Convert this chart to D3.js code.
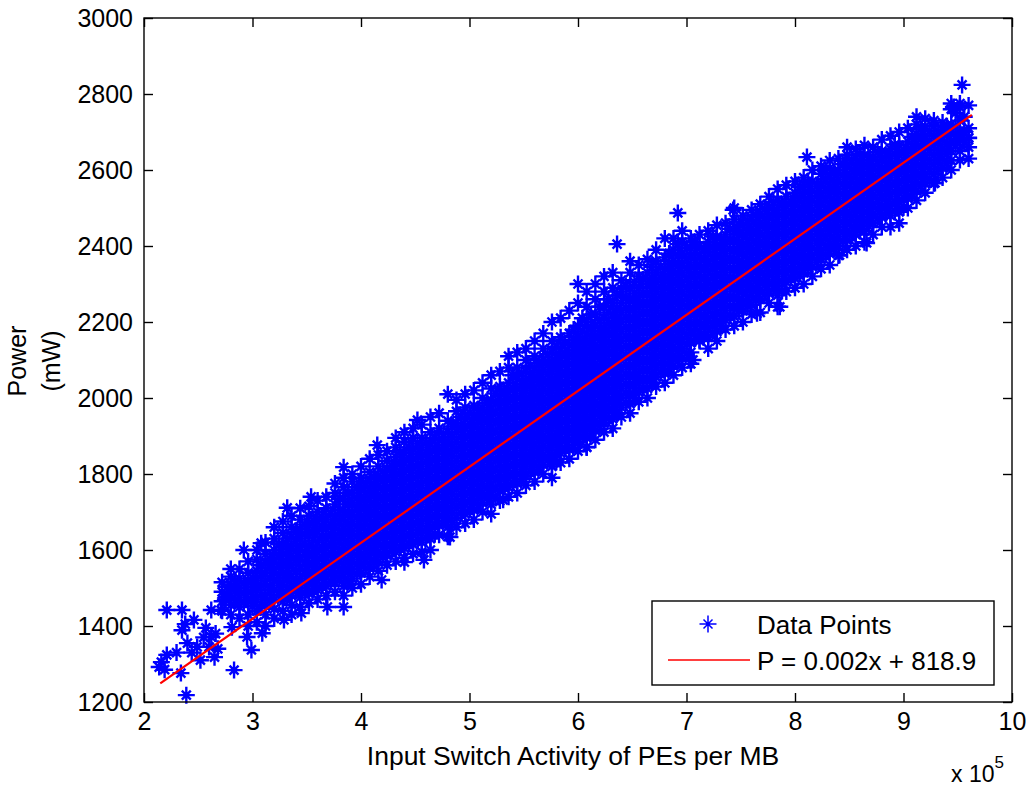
<!DOCTYPE html>
<html>
<head>
<meta charset="utf-8">
<script src="https://cdn.jsdelivr.net/npm/d3@7"></script>
<style>
  html, body { margin: 0; padding: 0; background: #fff; }
  svg { display: block; }
  text { font-family: "Liberation Sans", Arial, sans-serif; fill: #000; }
</style>
</head>
<body>
<svg id="chart" width="1026" height="787"></svg>
<script>
// x values are in units of 10^5 (as on the axis), power in mW
const xTicks = [2, 3, 4, 5, 6, 7, 8, 9, 10]
const yTicks = [1200, 1400, 1600, 1800, 2000, 2200, 2400, 2600, 2800, 3000]

const fitSlope = 0.002
const fitIntercept = 818.9
const xUnit = 1e5
const fitRange = [2.15, 9.63]

// scattered points at the edges of the cloud
const strayPoints = [
  [2.14, 1292], [2.16, 1305], [2.19, 1285], [2.21, 1324], [2.21, 1442], [2.35, 1442],
  [2.30, 1330], [2.34, 1276], [2.39, 1218], [2.40, 1355], [2.35, 1389], [2.38, 1405],
  [2.46, 1416], [2.49, 1345], [2.44, 1330], [2.55, 1370], [2.57, 1395], [2.62, 1442],
  [2.62, 1371], [2.65, 1318], [2.60, 1345], [2.68, 1340], [2.66, 1380], [2.52, 1310],
  [2.83, 1284], [2.81, 1397], [2.95, 1371], [2.99, 1337], [3.09, 1381], [3.29, 1416],
  [3.45, 1434], [3.69, 1450], [3.84, 1450], [4.19, 1521], [2.92, 1600], [3.08, 1618],
  [3.32, 1711], [3.54, 1740], [3.84, 1818], [4.15, 1876], [4.52, 1942], [6.36, 2405],
  [6.92, 2487], [7.43, 2495], [8.11, 2634], [9.54, 2824], [9.46, 2766], [9.60, 2684],
  [9.52, 2626], [9.29, 2566], [7.86, 2240], [7.65, 2223], [8.41, 2376], [8.66, 2408],
  [7.12, 2153], [7.06, 2100], [6.08, 1871], [5.31, 1732], [4.82, 1634], [4.58, 1574],
  [4.40, 1568], [2.75, 1470], [2.77, 1503], [2.71, 1442]
]

// outer columns of the cloud, one list of power readings per activity value
const columnX = [
  2.72, 2.80, 2.88, 2.96, 3.04, 3.12, 3.20, 3.28, 3.36, 3.44,
  3.52, 3.60, 3.68, 3.76, 3.84, 3.92, 4.00, 4.08, 4.16, 4.24,
  4.32, 4.40, 4.48, 4.56, 4.64, 4.72, 4.80, 4.88, 4.96, 5.04,
  5.12, 5.20, 5.28, 5.36, 5.44, 5.52, 5.60, 5.68, 5.76, 5.84,
  5.92, 6.00, 6.08, 6.16, 6.24, 6.32, 6.40, 6.48, 6.56, 6.64,
  6.72, 6.80, 6.88, 6.96, 7.04, 7.12, 7.20, 7.28, 7.36, 7.44,
  7.52, 7.60, 7.68, 7.76, 7.84, 7.92, 8.00, 8.08, 8.16, 8.24,
  8.32, 8.40, 8.48, 8.56, 8.64, 8.72, 8.80, 8.88, 8.96, 9.04,
  9.12, 9.20, 9.28, 9.36, 9.44, 9.52, 9.60
]

const columnPower = [
  [1440, 1465, 1490, 1515],
  [1430, 1455, 1480, 1505, 1530, 1550],
  [1420, 1450, 1475, 1500, 1525, 1550],
  [1400, 1430, 1465, 1490, 1515, 1540, 1570],
  [1410, 1440, 1470, 1495, 1520, 1545, 1575, 1600],
  [1400, 1430, 1455, 1480, 1510, 1540, 1565, 1590, 1620],
  [1420, 1445, 1470, 1495, 1520, 1550, 1575, 1600, 1630, 1660],
  [1440, 1465, 1490, 1515, 1540, 1565, 1590, 1615, 1645, 1675],
  [1430, 1455, 1480, 1505, 1530, 1560, 1585, 1610, 1635, 1660, 1690],
  [1450, 1475, 1500, 1525, 1550, 1575, 1600, 1630, 1655, 1680, 1710],
  [1460, 1485, 1510, 1535, 1560, 1585, 1610, 1640, 1665, 1690, 1715],
  [1470, 1495, 1520, 1545, 1570, 1595, 1620, 1650, 1675, 1700, 1730],
  [1480, 1505, 1530, 1555, 1580, 1605, 1630, 1655, 1680, 1710, 1740],
  [1490, 1515, 1540, 1565, 1590, 1615, 1640, 1665, 1690, 1720, 1750, 1775],
  [1480, 1505, 1530, 1555, 1580, 1605, 1630, 1655, 1680, 1705, 1735, 1765, 1790],
  [1500, 1525, 1550, 1575, 1600, 1625, 1650, 1675, 1700, 1725, 1750, 1780, 1800],
  [1510, 1540, 1565, 1590, 1615, 1640, 1665, 1690, 1715, 1740, 1765, 1790, 1820],
  [1530, 1555, 1580, 1605, 1630, 1655, 1680, 1705, 1730, 1755, 1780, 1805, 1840],
  [1545, 1570, 1595, 1620, 1645, 1670, 1695, 1720, 1745, 1770, 1795, 1820, 1850],
  [1560, 1585, 1610, 1635, 1660, 1685, 1710, 1735, 1760, 1785, 1810, 1835, 1860],
  [1570, 1595, 1620, 1645, 1670, 1695, 1720, 1745, 1770, 1795, 1820, 1845, 1870, 1895],
  [1580, 1605, 1630, 1655, 1680, 1705, 1730, 1755, 1780, 1805, 1830, 1855, 1885, 1910],
  [1590, 1615, 1640, 1665, 1690, 1715, 1740, 1765, 1790, 1815, 1840, 1865, 1895, 1920],
  [1595, 1620, 1645, 1670, 1695, 1720, 1745, 1770, 1795, 1820, 1845, 1870, 1895, 1930],
  [1600, 1630, 1655, 1680, 1705, 1730, 1755, 1780, 1805, 1830, 1855, 1880, 1910, 1950],
  [1640, 1665, 1690, 1715, 1740, 1765, 1790, 1815, 1840, 1865, 1890, 1920, 1960],
  [1635, 1660, 1685, 1710, 1735, 1760, 1785, 1810, 1835, 1860, 1885, 1910, 1940, 2010],
  [1660, 1685, 1710, 1735, 1760, 1785, 1810, 1835, 1860, 1885, 1910, 1935, 1965, 1995],
  [1670, 1695, 1720, 1745, 1770, 1795, 1820, 1845, 1870, 1895, 1920, 1945, 1975, 2010],
  [1680, 1705, 1730, 1755, 1780, 1805, 1830, 1855, 1880, 1905, 1930, 1955, 1980, 2020],
  [1700, 1725, 1750, 1775, 1800, 1825, 1850, 1875, 1900, 1925, 1950, 1975, 2000, 2040],
  [1695, 1720, 1745, 1770, 1795, 1820, 1845, 1870, 1895, 1920, 1945, 1970, 1995, 2025, 2060],
  [1730, 1755, 1780, 1805, 1830, 1855, 1880, 1905, 1930, 1955, 1980, 2005, 2030, 2070],
  [1740, 1765, 1790, 1815, 1840, 1865, 1890, 1915, 1940, 1965, 1990, 2015, 2040, 2080, 2110],
  [1750, 1775, 1800, 1825, 1850, 1875, 1900, 1925, 1950, 1975, 2000, 2025, 2050, 2080, 2120],
  [1770, 1795, 1820, 1845, 1870, 1895, 1920, 1945, 1970, 1995, 2020, 2045, 2070, 2100, 2130],
  [1780, 1805, 1830, 1855, 1880, 1905, 1930, 1955, 1980, 2005, 2030, 2055, 2080, 2110, 2150],
  [1800, 1825, 1850, 1875, 1900, 1925, 1950, 1975, 2000, 2025, 2050, 2075, 2100, 2130, 2170],
  [1790, 1820, 1845, 1870, 1895, 1920, 1945, 1970, 1995, 2020, 2045, 2070, 2095, 2120, 2150, 2200],
  [1830, 1855, 1880, 1905, 1930, 1955, 1980, 2005, 2030, 2055, 2080, 2105, 2130, 2160, 2210],
  [1840, 1865, 1890, 1915, 1940, 1965, 1990, 2015, 2040, 2065, 2090, 2115, 2140, 2170, 2230],
  [1860, 1885, 1910, 1935, 1960, 1985, 2010, 2035, 2060, 2085, 2110, 2135, 2160, 2190, 2250, 2300],
  [1870, 1895, 1920, 1945, 1970, 1995, 2020, 2045, 2070, 2095, 2120, 2145, 2170, 2200, 2240, 2280],
  [1890, 1915, 1940, 1965, 1990, 2015, 2040, 2065, 2090, 2115, 2140, 2165, 2190, 2220, 2260, 2300],
  [1910, 1935, 1960, 1985, 2010, 2035, 2060, 2085, 2110, 2135, 2160, 2185, 2210, 2240, 2280, 2320],
  [1920, 1945, 1970, 1995, 2020, 2045, 2070, 2095, 2120, 2145, 2170, 2195, 2220, 2250, 2290, 2330],
  [1950, 1975, 2000, 2025, 2050, 2075, 2100, 2125, 2150, 2175, 2200, 2225, 2250, 2280, 2310],
  [1960, 1985, 2010, 2035, 2060, 2085, 2110, 2135, 2160, 2185, 2210, 2235, 2260, 2290, 2330, 2360],
  [1990, 2015, 2040, 2065, 2090, 2115, 2140, 2165, 2190, 2215, 2240, 2265, 2290, 2320, 2350],
  [2000, 2025, 2050, 2075, 2100, 2125, 2150, 2175, 2200, 2225, 2250, 2275, 2300, 2330, 2365],
  [2030, 2055, 2080, 2105, 2130, 2155, 2180, 2205, 2230, 2255, 2280, 2305, 2330, 2360, 2390],
  [2040, 2065, 2090, 2115, 2140, 2165, 2190, 2215, 2240, 2265, 2290, 2315, 2340, 2370, 2420],
  [2060, 2085, 2110, 2135, 2160, 2185, 2210, 2235, 2260, 2285, 2310, 2335, 2360, 2390, 2420],
  [2080, 2105, 2130, 2155, 2180, 2205, 2230, 2255, 2280, 2305, 2330, 2355, 2380, 2410, 2440],
  [2090, 2120, 2145, 2170, 2195, 2220, 2245, 2270, 2295, 2320, 2345, 2370, 2395, 2420],
  [2150, 2175, 2200, 2225, 2250, 2275, 2300, 2325, 2350, 2375, 2400, 2430],
  [2130, 2160, 2185, 2210, 2235, 2260, 2285, 2310, 2335, 2360, 2385, 2410, 2440],
  [2150, 2175, 2200, 2225, 2250, 2275, 2300, 2325, 2350, 2375, 2400, 2425, 2455],
  [2180, 2205, 2230, 2255, 2280, 2305, 2330, 2355, 2380, 2405, 2430, 2460],
  [2190, 2215, 2240, 2265, 2290, 2315, 2340, 2365, 2390, 2415, 2440, 2470, 2500],
  [2200, 2230, 2255, 2280, 2305, 2330, 2355, 2380, 2405, 2430, 2455, 2480],
  [2220, 2245, 2270, 2295, 2320, 2345, 2370, 2395, 2420, 2445, 2470, 2495],
  [2225, 2260, 2285, 2310, 2335, 2360, 2385, 2410, 2435, 2460, 2485, 2510],
  [2250, 2275, 2300, 2325, 2350, 2375, 2400, 2425, 2450, 2475, 2500, 2530],
  [2240, 2270, 2295, 2320, 2345, 2370, 2395, 2420, 2445, 2470, 2495, 2520, 2550],
  [2280, 2305, 2330, 2355, 2380, 2405, 2430, 2455, 2480, 2505, 2530, 2560],
  [2290, 2315, 2340, 2365, 2390, 2415, 2440, 2465, 2490, 2515, 2540, 2570],
  [2300, 2330, 2355, 2380, 2405, 2430, 2455, 2480, 2505, 2530, 2555, 2580],
  [2320, 2345, 2370, 2395, 2420, 2445, 2470, 2495, 2520, 2545, 2570, 2600],
  [2340, 2365, 2390, 2415, 2440, 2465, 2490, 2515, 2540, 2565, 2590, 2610],
  [2350, 2380, 2405, 2430, 2455, 2480, 2505, 2530, 2555, 2580, 2605, 2625],
  [2375, 2400, 2425, 2450, 2475, 2500, 2525, 2550, 2575, 2600, 2630],
  [2390, 2415, 2440, 2465, 2490, 2515, 2540, 2565, 2590, 2615, 2640, 2660],
  [2400, 2430, 2455, 2480, 2505, 2530, 2555, 2580, 2605, 2630, 2655],
  [2410, 2440, 2465, 2490, 2515, 2540, 2565, 2590, 2615, 2640, 2665],
  [2430, 2460, 2485, 2510, 2535, 2560, 2585, 2610, 2635, 2660],
  [2450, 2475, 2500, 2525, 2550, 2575, 2600, 2625, 2650, 2680],
  [2450, 2480, 2505, 2530, 2555, 2580, 2605, 2630, 2655, 2690],
  [2460, 2490, 2515, 2540, 2565, 2590, 2615, 2640, 2665, 2700],
  [2500, 2525, 2550, 2575, 2600, 2625, 2650, 2675, 2710],
  [2520, 2545, 2570, 2595, 2620, 2645, 2670, 2695, 2720, 2740],
  [2540, 2565, 2590, 2615, 2640, 2665, 2690, 2715, 2735],
  [2565, 2590, 2615, 2640, 2665, 2690, 2715, 2730],
  [2580, 2605, 2630, 2655, 2680, 2705, 2725],
  [2600, 2625, 2650, 2675, 2700, 2720, 2760, 2775],
  [2650, 2680, 2700, 2730, 2765, 2775],
  [2630, 2660, 2685, 2710, 2770]
]

// inner columns that fill the dense core between the outer ones
const innerX = [
  2.76, 2.84, 2.92, 3.00, 3.08, 3.16, 3.24, 3.32, 3.40, 3.48,
  3.56, 3.64, 3.72, 3.80, 3.88, 3.96, 4.04, 4.12, 4.20, 4.28,
  4.36, 4.44, 4.52, 4.60, 4.68, 4.76, 4.84, 4.92, 5.00, 5.08,
  5.16, 5.24, 5.32, 5.40, 5.48, 5.56, 5.64, 5.72, 5.80, 5.88,
  5.96, 6.04, 6.12, 6.20, 6.28, 6.36, 6.44, 6.52, 6.60, 6.68,
  6.76, 6.84, 6.92, 7.00, 7.08, 7.16, 7.24, 7.32, 7.40, 7.48,
  7.56, 7.64, 7.72, 7.80, 7.88, 7.96, 8.04, 8.12, 8.20, 8.28,
  8.36, 8.44, 8.52, 8.60, 8.68, 8.76, 8.84, 8.92, 9.00, 9.08,
  9.16, 9.24, 9.32, 9.40, 9.48, 9.56
]

const innerPower = [
  [1477],
  [1467, 1492, 1517],
  [1462, 1487, 1512],
  [1452, 1477, 1502, 1527],
  [1455, 1482, 1507, 1532, 1560],
  [1467, 1495, 1525, 1552, 1577],
  [1482, 1507, 1535, 1562, 1587, 1615],
  [1477, 1502, 1527, 1552, 1577, 1602, 1630],
  [1492, 1517, 1545, 1572, 1597, 1622, 1647],
  [1487, 1512, 1537, 1562, 1587, 1615, 1642, 1667],
  [1497, 1522, 1547, 1572, 1597, 1625, 1652, 1677],
  [1507, 1532, 1557, 1582, 1607, 1635, 1662, 1687],
  [1517, 1542, 1567, 1592, 1617, 1642, 1667, 1695],
  [1527, 1552, 1577, 1602, 1627, 1652, 1677, 1705, 1735],
  [1517, 1542, 1567, 1592, 1617, 1642, 1667, 1692, 1720, 1750],
  [1537, 1562, 1587, 1612, 1637, 1662, 1687, 1712, 1737, 1765],
  [1552, 1577, 1602, 1627, 1652, 1677, 1702, 1727, 1752, 1777],
  [1567, 1592, 1617, 1642, 1667, 1692, 1717, 1742, 1767, 1792],
  [1582, 1607, 1632, 1657, 1682, 1707, 1732, 1757, 1782, 1807],
  [1597, 1622, 1647, 1672, 1697, 1722, 1747, 1772, 1797, 1822],
  [1607, 1632, 1657, 1682, 1707, 1732, 1757, 1782, 1807, 1832, 1857],
  [1617, 1642, 1667, 1692, 1717, 1742, 1767, 1792, 1817, 1842, 1870],
  [1627, 1652, 1677, 1702, 1727, 1752, 1777, 1802, 1827, 1852, 1880],
  [1632, 1657, 1682, 1707, 1732, 1757, 1782, 1807, 1832, 1857, 1882],
  [1642, 1667, 1692, 1717, 1742, 1767, 1792, 1817, 1842, 1867, 1895],
  [1677, 1702, 1727, 1752, 1777, 1802, 1827, 1852, 1877, 1905],
  [1672, 1697, 1722, 1747, 1772, 1797, 1822, 1847, 1872, 1897, 1925],
  [1697, 1722, 1747, 1772, 1797, 1822, 1847, 1872, 1897, 1922, 1950],
  [1707, 1732, 1757, 1782, 1807, 1832, 1857, 1882, 1907, 1932, 1960],
  [1717, 1742, 1767, 1792, 1817, 1842, 1867, 1892, 1917, 1942, 1967],
  [1737, 1762, 1787, 1812, 1837, 1862, 1887, 1912, 1937, 1962, 1987],
  [1737, 1762, 1787, 1812, 1837, 1862, 1887, 1912, 1937, 1962, 1987, 2012],
  [1767, 1792, 1817, 1842, 1867, 1892, 1917, 1942, 1967, 1992, 2017],
  [1777, 1802, 1827, 1852, 1877, 1902, 1927, 1952, 1977, 2002, 2027, 2060],
  [1787, 1812, 1837, 1862, 1887, 1912, 1937, 1962, 1987, 2012, 2037, 2065],
  [1807, 1832, 1857, 1882, 1907, 1932, 1957, 1982, 2007, 2032, 2057, 2085],
  [1817, 1842, 1867, 1892, 1917, 1942, 1967, 1992, 2017, 2042, 2067, 2092],
  [1837, 1862, 1887, 1912, 1937, 1962, 1987, 2012, 2037, 2062, 2087, 2115],
  [1832, 1857, 1882, 1907, 1932, 1957, 1982, 2007, 2032, 2057, 2082, 2107, 2135],
  [1867, 1892, 1917, 1942, 1967, 1992, 2017, 2042, 2067, 2092, 2117, 2145],
  [1877, 1902, 1927, 1952, 1977, 2002, 2027, 2052, 2077, 2102, 2127, 2152, 2180],
  [1897, 1922, 1947, 1972, 1997, 2022, 2047, 2072, 2097, 2122, 2147, 2175, 2210],
  [1907, 1932, 1957, 1982, 2007, 2032, 2057, 2082, 2107, 2132, 2157, 2185, 2220],
  [1927, 1952, 1977, 2002, 2027, 2052, 2077, 2102, 2127, 2152, 2177, 2205, 2240],
  [1947, 1972, 1997, 2022, 2047, 2072, 2097, 2122, 2147, 2172, 2197, 2225, 2260],
  [1960, 1985, 2010, 2035, 2060, 2085, 2110, 2135, 2160, 2185, 2210, 2235, 2270],
  [1987, 2012, 2037, 2062, 2087, 2112, 2137, 2162, 2187, 2212, 2237, 2265, 2295],
  [2000, 2025, 2050, 2075, 2100, 2125, 2150, 2175, 2200, 2225, 2250, 2275, 2305],
  [2027, 2052, 2077, 2102, 2127, 2152, 2177, 2202, 2227, 2252, 2277, 2312],
  [2040, 2065, 2090, 2115, 2140, 2165, 2190, 2215, 2240, 2265, 2290, 2315, 2345],
  [2067, 2092, 2117, 2142, 2167, 2192, 2217, 2242, 2267, 2292, 2317, 2345],
  [2077, 2102, 2127, 2152, 2177, 2202, 2227, 2252, 2277, 2302, 2327, 2352, 2380],
  [2097, 2122, 2147, 2172, 2197, 2222, 2247, 2272, 2297, 2322, 2347, 2375, 2405],
  [2117, 2142, 2167, 2192, 2217, 2242, 2267, 2292, 2317, 2342, 2367, 2395],
  [2157, 2182, 2207, 2232, 2257, 2282, 2307, 2332, 2357, 2382, 2410],
  [2165, 2190, 2215, 2240, 2265, 2290, 2315, 2340, 2365, 2392],
  [2172, 2197, 2222, 2247, 2272, 2297, 2322, 2347, 2372, 2397, 2425],
  [2190, 2215, 2240, 2265, 2290, 2315, 2340, 2365, 2390, 2415],
  [2217, 2242, 2267, 2292, 2317, 2342, 2367, 2392, 2417, 2445],
  [2230, 2255, 2280, 2305, 2330, 2355, 2380, 2405, 2430, 2457],
  [2242, 2267, 2292, 2317, 2342, 2367, 2392, 2417, 2442, 2467],
  [2257, 2282, 2307, 2332, 2357, 2382, 2407, 2432, 2457, 2482],
  [2272, 2297, 2322, 2347, 2372, 2397, 2422, 2447, 2472, 2497],
  [2287, 2312, 2337, 2362, 2387, 2412, 2437, 2462, 2487, 2515],
  [2282, 2307, 2332, 2357, 2382, 2407, 2432, 2457, 2482, 2507],
  [2317, 2342, 2367, 2392, 2417, 2442, 2467, 2492, 2517],
  [2327, 2352, 2377, 2402, 2427, 2452, 2477, 2502, 2527, 2555],
  [2342, 2367, 2392, 2417, 2442, 2467, 2492, 2517, 2542, 2567],
  [2357, 2382, 2407, 2432, 2457, 2482, 2507, 2532, 2557],
  [2377, 2402, 2427, 2452, 2477, 2502, 2527, 2552, 2577, 2600],
  [2392, 2417, 2442, 2467, 2492, 2517, 2542, 2567, 2592],
  [2412, 2437, 2462, 2487, 2512, 2537, 2562, 2587, 2615],
  [2427, 2452, 2477, 2502, 2527, 2552, 2577, 2602, 2627],
  [2442, 2467, 2492, 2517, 2542, 2567, 2592, 2617, 2642],
  [2452, 2477, 2502, 2527, 2552, 2577, 2602, 2627],
  [2472, 2497, 2522, 2547, 2572, 2597, 2622, 2647],
  [2487, 2512, 2537, 2562, 2587, 2612, 2637],
  [2492, 2517, 2542, 2567, 2592, 2617, 2642, 2667],
  [2502, 2527, 2552, 2577, 2602, 2627, 2652],
  [2537, 2562, 2587, 2612, 2637, 2662, 2687],
  [2557, 2582, 2607, 2632, 2657, 2682, 2707],
  [2577, 2602, 2627, 2652, 2677, 2702],
  [2602, 2627, 2652, 2677, 2702],
  [2617, 2642, 2667, 2692, 2715],
  [2665, 2690, 2712, 2750],
  [2672, 2700, 2740]
]

const legendLabels = ['Data Points', 'P = 0.002x + 818.9']

const points = strayPoints.slice()
columnX.forEach((x, i) => {
  columnPower[i].forEach(p => points.push([x, p]))
})
innerX.forEach((x, i) => {
  innerPower[i].forEach(p => points.push([x, p]))
})

const svg = d3.select('#chart')
const box = {left: 144, right: 1012, top: 18, bottom: 702}

const xScale = d3.scaleLinear().domain([2, 10]).range([box.left, box.right])
const yScale = d3.scaleLinear().domain([1200, 3000]).range([box.bottom, box.top])

const star = 'M-8.5,0H8.5M0,-8.5V8.5M-4.5,-4.5L4.5,4.5M-4.5,4.5L4.5,-4.5'

svg.append('g')
  .selectAll('path')
  .data(points)
  .enter()
  .append('path')
  .attr('d', star)
  .attr('transform', d => `translate(${xScale(d[0])},${yScale(d[1])})`)
  .attr('stroke', '#0000ff')
  .attr('stroke-width', 2.4)
  .attr('fill', 'none')

const fitLine = fitRange.map(x => [x, fitSlope * x * xUnit + fitIntercept])
svg.append('path')
  .datum(fitLine)
  .attr('d', d3.line().x(d => xScale(d[0])).y(d => yScale(d[1])))
  .attr('stroke', '#ff0000')
  .attr('stroke-width', 2.2)
  .attr('fill', 'none')

// axes with inward ticks on every side
const tickLen = 9
const axes = [
  d3.axisBottom(xScale).tickValues(xTicks).tickSizeInner(-tickLen).tickSizeOuter(0).tickPadding(10),
  d3.axisTop(xScale).tickValues(xTicks).tickSizeInner(-tickLen).tickSizeOuter(0).tickFormat(''),
  d3.axisLeft(yScale).tickValues(yTicks).tickSizeInner(-tickLen).tickSizeOuter(0).tickPadding(11)
    .tickFormat(d3.format('d')),
  d3.axisRight(yScale).tickValues(yTicks).tickSizeInner(-tickLen).tickSizeOuter(0).tickFormat('')
]
const shifts = [`0,${box.bottom}`, `0,${box.top}`, `${box.left},0`, `${box.right},0`]
axes.forEach((ax, i) => {
  const g = svg.append('g')
    .attr('transform', `translate(${shifts[i]})`)
    .call(ax)
  g.select('.domain').remove()
  g.selectAll('line').attr('stroke', '#000').attr('stroke-width', 1.4)
  g.selectAll('text')
    .attr('font-size', 25)
    .attr('font-family', '"Liberation Sans", Arial, sans-serif')
    .attr('fill', '#000')
})

svg.append('rect')
  .attr('x', box.left).attr('y', box.top)
  .attr('width', box.right - box.left).attr('height', box.bottom - box.top)
  .attr('fill', 'none')
  .attr('stroke', '#000')
  .attr('stroke-width', 1.4)

svg.append('text')
  .attr('x', 573)
  .attr('y', 765)
  .attr('text-anchor', 'middle')
  .attr('font-size', 26.5)
  .text('Input Switch Activity of PEs per MB')

const yLabel = svg.append('text')
  .attr('transform', 'translate(26,361) rotate(-90)')
  .attr('text-anchor', 'middle')
  .attr('font-size', 25)
yLabel.append('tspan').attr('x', 0).attr('y', 0).text('Power')
yLabel.append('tspan').attr('x', 0).attr('y', 34).text('(mW)')

const expo = svg.append('text')
  .attr('x', 951)
  .attr('y', 782)
  .attr('font-size', 23)
expo.append('tspan').text('x 10')
expo.append('tspan').attr('dy', -14).attr('font-size', 17).text('5')

const legend = svg.append('g')
legend.append('rect')
  .attr('x', 652).attr('y', 601)
  .attr('width', 342).attr('height', 84)
  .attr('fill', '#fff')
  .attr('stroke', '#000')
  .attr('stroke-width', 1.4)
legend.append('path')
  .attr('d', star)
  .attr('transform', 'translate(708,624)')
  .attr('stroke', '#0000ff')
  .attr('stroke-width', 1.5)
  .attr('fill', 'none')
legend.append('line')
  .attr('x1', 668).attr('x2', 750)
  .attr('y1', 660).attr('y2', 660)
  .attr('stroke', '#ff0000')
  .attr('stroke-width', 1.5)
legend.selectAll('text.lab')
  .data(legendLabels)
  .enter()
  .append('text')
  .attr('class', 'lab')
  .attr('x', 757)
  .attr('y', (d, i) => 634 + i * 36)
  .attr('font-size', 26)
  .text(d => d)
</script>
</body>
</html>
